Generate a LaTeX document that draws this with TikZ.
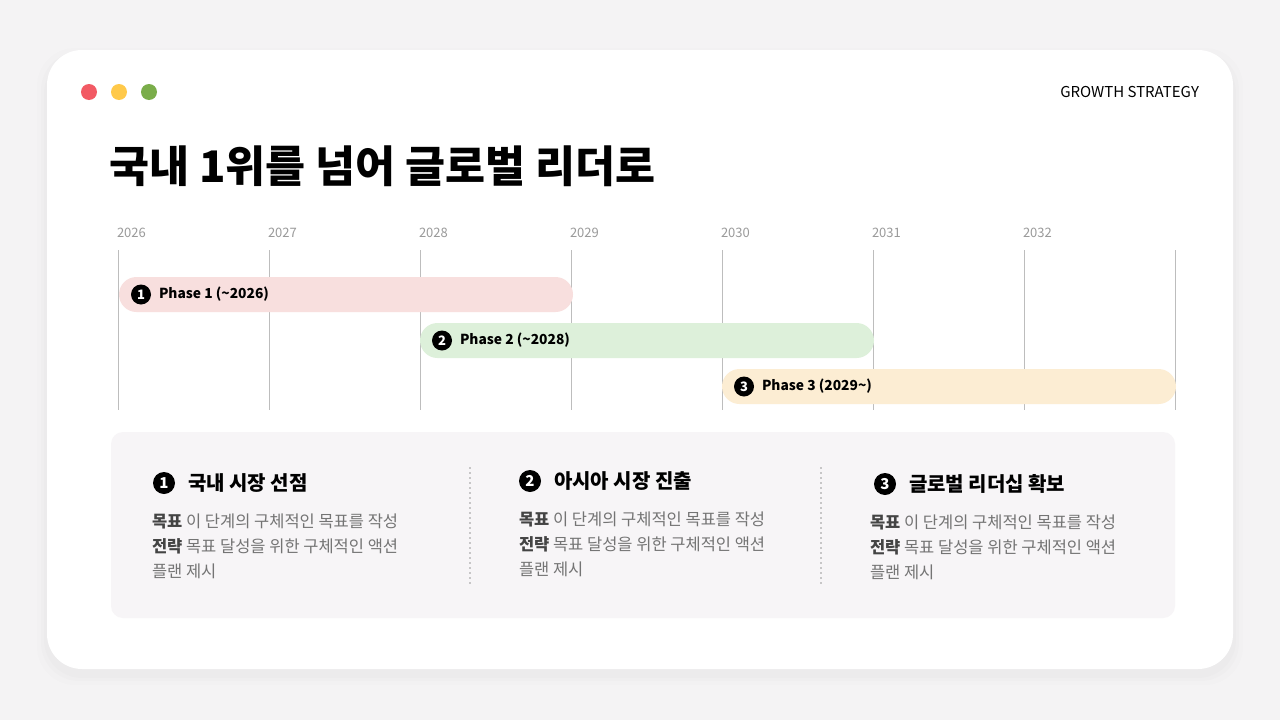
\documentclass[tikz,border=0pt]{standalone}
\usepackage{fontspec}
\setmainfont{Noto Sans CJK KR}
\newfontfamily\krfont{Noto Sans CJK KR}
\usetikzlibrary{positioning}
\definecolor{pagebg}{HTML}{F4F3F4}
\definecolor{panelbg}{HTML}{F7F5F7}
\definecolor{gridgray}{HTML}{BDBDBD}
\definecolor{yeargray}{HTML}{9A9A9A}
\definecolor{bodygray}{HTML}{747474}
\definecolor{labelgray}{HTML}{444444}
\definecolor{dotred}{HTML}{F25A64}
\definecolor{dotyellow}{HTML}{FFC94A}
\definecolor{dotgreen}{HTML}{7AAD4A}
\definecolor{barpink}{HTML}{F8DFDE}
\definecolor{bargreen}{HTML}{DDF0DA}
\definecolor{baryellow}{HTML}{FCEDD3}

\begin{document}
\begin{tikzpicture}[x=1pt,y=-1pt,
		every node/.append style={inner sep=0pt,outer sep=0pt},
		windot/.style={circle,minimum size=16pt},
		yearlabel/.style={anchor=west,text=yeargray,font=\fontsize{13}{15}\selectfont},
		phasebar/.style={anchor=west,rounded corners=17.5pt,minimum width=454pt,minimum height=35pt},
		badge/.style={circle,fill=black,text=white,minimum size=20pt,font=\bfseries\fontsize{13}{15}\selectfont},
		bigbadge/.style={circle,fill=black,text=white,minimum size=22pt,font=\bfseries\fontsize{15}{17}\selectfont},
		phaselabel/.style={font=\bfseries\fontsize{13.8}{16}\selectfont},
		headlabel/.style={font=\krfont\bfseries\fontsize{20}{23}\selectfont},
		bodyline/.style={anchor=west,text=bodygray,font=\krfont\fontsize{16.5}{19}\selectfont}
	]
	\useasboundingbox (0,0) rectangle (1280,720);
	\fill[pagebg] (0,0) rectangle (1280,720);
	% card with a soft shadow
	\foreach \s/\o in {10/0.008,6/0.01,3/0.012}
		\fill[black,opacity=\o,rounded corners=38pt] (47-\s,50-\s+8) rectangle (1233+\s,669+\s+6);
	\node[fill=white,rounded corners=35pt,minimum width=1186pt,minimum height=619pt] (card) at (640,359.5) {};
	\node[windot,fill=dotred] (red) at (89,92) {};
	\node[windot,fill=dotyellow,right=14pt of red] (yellow) {};
	\node[windot,fill=dotgreen,right=14pt of yellow] (green) {};
	\node[anchor=east,font=\fontsize{15}{17}\selectfont] (tag) at (1199,92) {GROWTH STRATEGY};
	\node[anchor=west,font=\krfont\bfseries\fontsize{43.5}{48}\selectfont] (title) at (109,166) {국내 1위를 넘어 글로벌 리더로};

	% timeline grid
	\foreach \yr [count=\i from 0] in {2026,2027,2028,2029,2030,2031,2032}
		\node[yearlabel] (y\yr) at (117+151*\i,233) {\yr};
	\foreach \i in {0,...,7}
		\draw[gridgray,line width=0.8pt] (118+151*\i,250) -- (118+151*\i,410);

	% phase bars
	\node[phasebar,fill=barpink] (p1) at (119,294.5) {};
	\node[badge,right=12pt of p1.west] (b1) {1};
	\node[phaselabel,right=8pt of b1] (l1) {Phase 1 (\textasciitilde 2026)};
	\node[phasebar,fill=bargreen] (p2) at (420,340.5) {};
	\node[badge,right=12pt of p2.west] (b2) {2};
	\node[phaselabel,right=8pt of b2] (l2) {Phase 2 (\textasciitilde 2028)};
	\node[phasebar,fill=baryellow] (p3) at (722,386.5) {};
	\node[badge,right=12pt of p3.west] (b3) {3};
	\node[phaselabel,right=8pt of b3] (l3) {Phase 3 (2029\textasciitilde)};

	% goal panel
	\node[fill=panelbg,rounded corners=12pt,minimum width=1064pt,minimum height=186pt] (panel) at (643,525) {};
	\foreach \dx in {470,821}
		\draw[gridgray!80!black,line width=1.6pt,line cap=round,dash pattern=on 0pt off 5pt] (\dx,468) -- (\dx,583);
	\foreach \cx/\bx/\by/\head [count=\n] in {164/152/521/국내 시장 선점,530/519/519/아시아 시장 진출,885/870/522/글로벌 리더십 확보}{
		\node[bigbadge] (h\n) at (\cx,\by-38) {\n};
		\node[headlabel,right=13pt of h\n] (t\n) {\head};
		\node[bodyline] (g\n) at (\bx,\by) {\textcolor{labelgray}{\bfseries 목표} 이 단계의 구체적인 목표를 작성};
		\node[bodyline] (s\n) at (\bx,\by+25) {\textcolor{labelgray}{\bfseries 전략} 목표 달성을 위한 구체적인 액션};
		\node[bodyline] (r\n) at (\bx,\by+50) {플랜 제시};
	}
\end{tikzpicture}
\end{document}
